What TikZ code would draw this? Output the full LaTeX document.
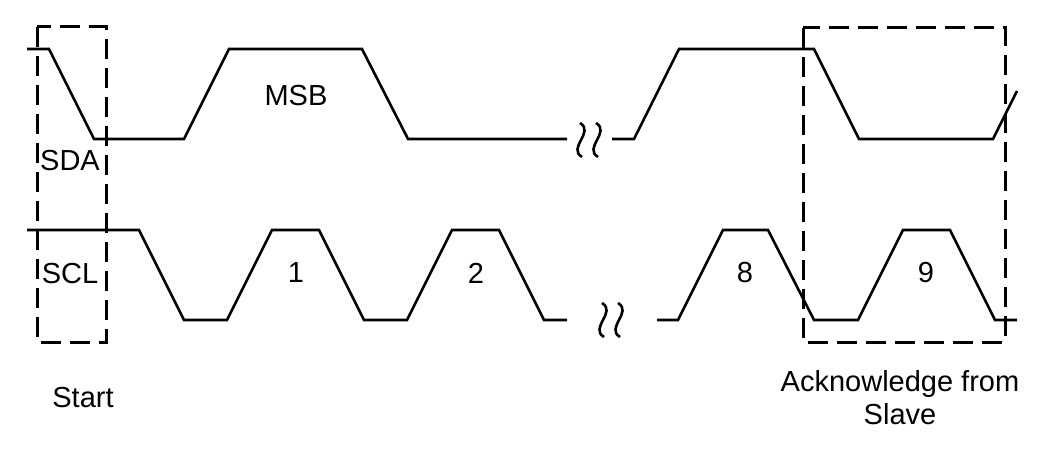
\documentclass[tikz,border=0pt]{standalone}
\usepackage{fontspec}
\setmainfont{Liberation Sans}
\begin{document}
\begin{tikzpicture}[x=1pt,y=-1pt,line join=miter,
    wave/.style={line width=2.6pt},
    frame box/.style={line width=3pt,dash pattern=on 20pt off 9pt},
    txt node/.style={inner sep=0pt,font=\fontsize{29}{33}\selectfont}]
                \useasboundingbox (0,0) rectangle (1046,470);

                % dashed frames
                \draw[frame box] (37,27) rectangle (106,342);
                \draw[frame box] (803,28) rectangle (1005,342);

                % SDA
                \draw[wave] (27,49) -- (49,49) -- (94,139) -- (184,139) -- (229,49) -- (362,49) -- (408,139) -- (567,139);
                \draw[wave] (612,139) -- (634,139) -- (679,49) -- (814,49) -- (859,139) -- (993,139) -- (1017,91);

                % SCL
                \draw[wave] (27,230) -- (139,230) -- (184,320) -- (227,320) -- (272,230) -- (319,230) -- (364,320) -- (407,320)
                    -- (452,230) -- (499,230) -- (544,320) -- (567,320);
                \draw[wave] (657,320) -- (678,320) -- (723,230) -- (768,230) -- (814,320) -- (858,320) -- (903,230) -- (950,230)
                    -- (995,320) -- (1017,320);

                % breaks
                \foreach \wx/\wy in {581/140, 597/140, 603/320, 619/320}
                    \draw[wave] ({\wx-1},{\wy-17}) .. controls ({\wx+14},{\wy-8}) and ({\wx-14},{\wy+8}) .. ({\wx+1},{\wy+17});

                \node[txt node] (msb) at (296,96) {MSB};
                \node[txt node] (sda) at (70,161) {SDA};
                \node[txt node] (scl) at (70,274) {SCL};
                \node[txt node] (one) at (296,273) {1};
                \node[txt node] (two) at (476,273) {2};
                \node[txt node] (eight) at (745,273) {8};
                \node[txt node] (nine) at (926,273) {9};
                \node[txt node] (start) at (83,398) {Start};
                \node[txt node,align=center] (ack) at (900,398) {Acknowledge from\\Slave};
            \end{tikzpicture}
\end{document}
